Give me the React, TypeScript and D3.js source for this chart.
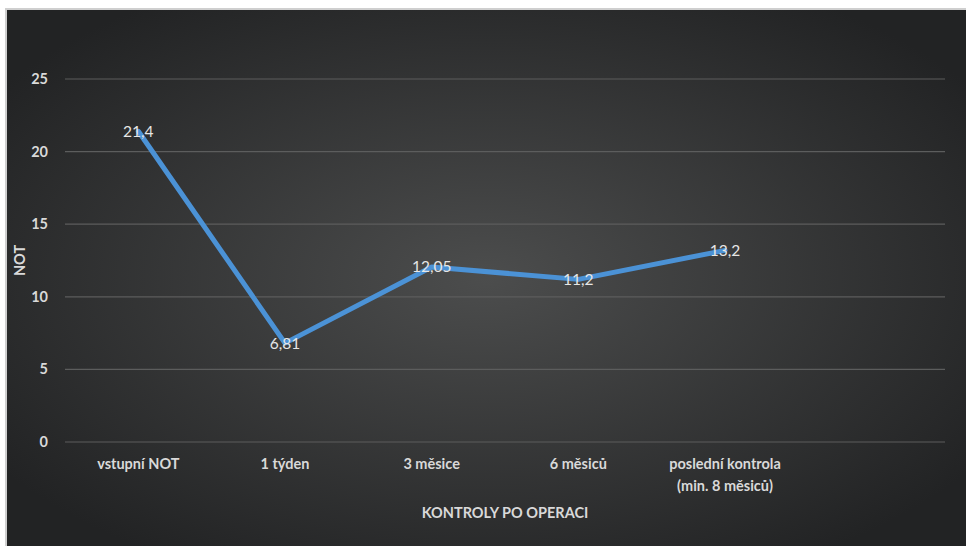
import { useEffect, useRef } from 'react';
import * as d3 from 'd3';

const categories: string[] = [
  'vstupní NOT',
  '1 týden',
  '3 měsice',
  '6 měsiců',
  'poslední kontrola\n(min. 8 měsiců)',
  '',
];
const values: number[] = [21.4, 6.81, 12.05, 11.2, 13.2];
const valueLabels: string[] = ['21,4', '6,81', '12,05', '11,2', '13,2'];
const yTicks: number[] = [0, 5, 10, 15, 20, 25];

export default function App() {
  const ref = useRef<SVGSVGElement | null>(null);

  useEffect(() => {
    const W = 966;
    const H = 546;
    const svg = d3.select(ref.current);
    svg.selectAll('*').remove();
    svg.attr('width', W).attr('height', H);

    const font = 'Lato, "Open Sans", sans-serif';

    // background
    svg.append('rect').attr('width', W).attr('height', H).attr('fill', '#fff');
    const defs = svg.append('defs');
    const grad = defs
      .append('radialGradient')
      .attr('id', 'bg')
      .attr('cx', '50%')
      .attr('cy', '50%')
      .attr('r', '62%');
    grad.append('stop').attr('offset', '0%').attr('stop-color', '#4c4d4d');
    grad.append('stop').attr('offset', '100%').attr('stop-color', '#222324');
    svg.append('rect').attr('x', 5).attr('y', 8).attr('width', W - 5).attr('height', H - 8).attr('fill', '#cfcfcf');
    svg.append('rect').attr('x', 7).attr('y', 10).attr('width', W - 7).attr('height', H - 10).attr('fill', 'url(#bg)');

    const margin = { left: 65, right: 21, top: 79, bottom: 104 };
    const x = d3
      .scaleBand()
      .domain(categories.map((_, i) => String(i)))
      .range([margin.left, W - margin.right]);
    const y = d3.scaleLinear().domain([0, 25]).range([H - margin.bottom, margin.top]);

    // gridlines
    svg
      .append('g')
      .selectAll('line')
      .data(yTicks)
      .enter()
      .append('line')
      .attr('x1', margin.left)
      .attr('x2', W - margin.right)
      .attr('y1', d => y(d))
      .attr('y2', d => y(d))
      .attr('stroke', '#5c5d5d')
      .attr('stroke-width', 1.2);

    // y tick labels
    svg
      .append('g')
      .selectAll('text')
      .data(yTicks)
      .enter()
      .append('text')
      .attr('x', 48)
      .attr('y', d => y(d))
      .attr('dy', '0.35em')
      .attr('text-anchor', 'end')
      .attr('fill', '#d9d9d9')
      .attr('font-family', font)
      .attr('font-weight', 'bold')
      .attr('font-size', 14.5)
      .text(d => String(d));

    // x tick labels
    const xl = svg
      .append('g')
      .selectAll('text')
      .data(categories)
      .enter()
      .append('text')
      .attr('x', (_, i) => x(String(i))! + x.bandwidth() / 2)
      .attr('y', 469)
      .attr('text-anchor', 'middle')
      .attr('fill', '#d9d9d9')
      .attr('font-family', font)
      .attr('font-weight', 'bold')
      .attr('font-size', 14.5);
    xl.each(function (d) {
      const t = d3.select(this);
      d.split('\n').forEach((line, k) => {
        t.append('tspan')
          .attr('x', t.attr('x'))
          .attr('dy', k === 0 ? 0 : 22)
          .text(line);
      });
    });

    // axis titles
    svg
      .append('text')
      .attr('x', (margin.left + W - margin.right) / 2)
      .attr('y', 518)
      .attr('text-anchor', 'middle')
      .attr('fill', '#d9d9d9')
      .attr('font-family', font)
      .attr('font-weight', 'bold')
      .attr('font-size', 14.5)
      .text('KONTROLY PO OPERACI');
    svg
      .append('text')
      .attr('transform', `translate(25,${(y(0) + y(25)) / 2}) rotate(-90)`)
      .attr('text-anchor', 'middle')
      .attr('fill', '#d9d9d9')
      .attr('font-family', font)
      .attr('font-weight', 'bold')
      .attr('font-size', 14.5)
      .text('NOT');

    // line
    const line = d3
      .line<number>()
      .x((_, i) => x(String(i))! + x.bandwidth() / 2)
      .y(d => y(d));
    svg
      .append('path')
      .datum(values)
      .attr('d', line)
      .attr('fill', 'none')
      .attr('stroke', '#4b92d6')
      .attr('stroke-width', 5)
      .attr('stroke-linejoin', 'round')
      .attr('stroke-linecap', 'round');

    // data labels
    svg
      .append('g')
      .selectAll('text')
      .data(values)
      .enter()
      .append('text')
      .attr('x', (_, i) => x(String(i))! + x.bandwidth() / 2)
      .attr('y', d => y(d))
      .attr('dy', '0.35em')
      .attr('text-anchor', 'middle')
      .attr('fill', '#e6e6e6')
      .attr('font-family', font)
      .attr('font-size', 15.5)
      .text((_, i) => valueLabels[i]);
  }, []);

  return <svg ref={ref} style={{ position: 'absolute', left: 0, top: 0, display: 'block' }} />;
}
